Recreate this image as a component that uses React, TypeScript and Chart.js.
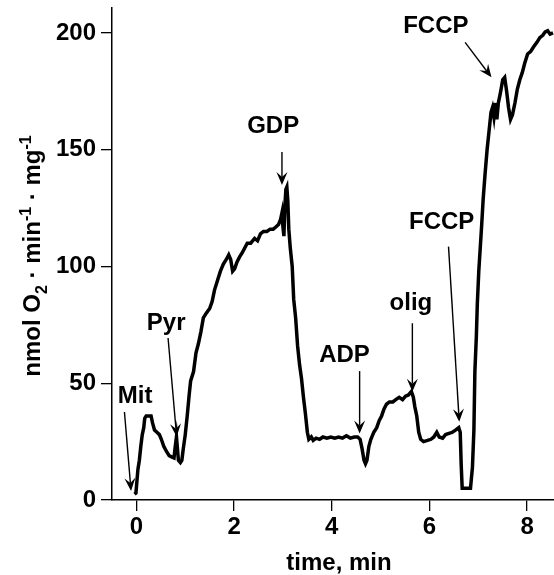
import React, { useEffect, useRef } from "react";
import { Chart, registerables } from "chart.js";

Chart.register(...registerables);

// time (min) of each recorded point
const timeMin = [
  -0.04, -0.01, 0.01, 0.03, 0.06, 0.09, 0.12, 0.15, 0.17, 0.2, 0.3, 0.33, 0.37, 0.42, 0.47, 0.51, 0.56, 0.61, 0.67, 0.72,
  0.77, 0.79, 0.82, 0.84, 0.86, 0.9, 0.93, 0.96, 1.0, 1.04, 1.08, 1.11, 1.17, 1.22, 1.27, 1.32, 1.37, 1.43, 1.5, 1.55,
  1.6, 1.66, 1.72, 1.78, 1.84, 1.89, 1.93, 1.97, 2.01, 2.06, 2.11, 2.17, 2.22, 2.27, 2.34, 2.42, 2.48, 2.54, 2.6, 2.67,
  2.74, 2.8, 2.86, 2.91, 2.95, 2.98, 3.0, 3.02, 3.04, 3.06, 3.08, 3.1, 3.12, 3.15, 3.19, 3.22, 3.26, 3.3, 3.34, 3.38,
  3.42, 3.46, 3.5, 3.53, 3.58, 3.62, 3.68, 3.75, 3.82, 3.9, 3.98, 4.06, 4.14, 4.22, 4.3, 4.38, 4.46, 4.53, 4.58, 4.62,
  4.66, 4.69, 4.72, 4.76, 4.8, 4.86, 4.92, 4.97, 5.02, 5.07, 5.12, 5.18, 5.25, 5.31, 5.38, 5.45, 5.51, 5.57, 5.63, 5.67,
  5.7, 5.74, 5.78, 5.82, 5.88, 5.96, 6.03, 6.09, 6.15, 6.2, 6.27, 6.33, 6.4, 6.47, 6.54, 6.6, 6.63, 6.65, 6.67, 6.84,
  6.88, 6.91, 6.93, 6.96, 6.98, 7.01, 7.04, 7.07, 7.1, 7.14, 7.18, 7.22, 7.26, 7.29, 7.32, 7.35, 7.38, 7.41, 7.45, 7.5,
  7.54, 7.58, 7.62, 7.66, 7.7, 7.75, 7.8, 7.85, 7.9, 7.95, 8.01, 8.07, 8.13, 8.2, 8.26, 8.32, 8.37, 8.42, 8.47, 8.53,
];

// O2 consumption rate (nmol O2 / min / mg)
const o2Rate = [
  2.5, 3, 8, 13, 17, 23, 28, 31, 35, 36, 36, 33, 30, 29, 28, 26, 23, 21, 19, 18.5,
  18, 22, 27, 22, 17, 16, 17, 22, 28, 36, 45, 51, 55, 63, 67, 72, 78, 80, 82, 85,
  90, 94, 98, 101, 103, 105, 103, 98, 99, 102, 104, 106, 108, 110, 110, 112, 111, 114, 115, 115,
  116, 116, 117, 118, 120, 123, 117, 113, 126, 133, 134, 128, 116, 108, 100, 86, 78, 66, 58, 52,
  44, 37, 29, 26, 27, 25.5, 26.5, 26, 27, 26.5, 27, 26.5, 27, 26.5, 27.5, 26.5, 27, 27, 26, 22,
  17, 15.5, 17, 23, 26, 29, 31, 34, 36, 39, 41, 42, 42, 43, 44, 43, 44.5, 45, 46.5, 44,
  40, 36, 29, 26, 25, 25.5, 26, 27, 29, 27, 26.5, 28, 28.5, 29, 30, 31, 29, 15, 5, 5,
  14, 30, 55, 70, 84, 98, 108, 118, 129, 140, 150, 158, 166, 168, 164, 170, 163, 170, 174, 180,
  181, 175, 168, 163, 165, 170, 176, 180, 183, 187, 191, 192, 194, 196, 198, 199, 200.5, 201, 199.5, 200,
];

const xTicks = [0, 2, 4, 6, 8];
const yTicks = [0, 50, 100, 150, 200];

// annotation labels with text anchor (data units) and arrow tail/head (data units)
const annLabels = ["Mit", "Pyr", "GDP", "ADP", "olig", "FCCP", "FCCP"];
const annTextT = [-0.025, 0.61, 2.8, 4.26, 5.62, 6.25, 6.13];
const annTextV = [41.5, 73, 157.2, 59.1, 81.4, 116, 199.8];
const annTailT = [-0.245, 0.648, 2.98, 4.57, 5.65, 6.39, 6.73];
const annTailV = [37.7, 69.4, 149, 55.2, 75.7, 108.5, 196];
const annHeadT = [-0.11, 0.824, 2.98, 4.57, 5.65, 6.61, 7.27];
const annHeadV = [3.9, 27.1, 134.9, 28.5, 46.4, 33.5, 181];

const FONT = "'Liberation Sans', Arial, Helvetica, sans-serif";
const FS = 24;

const annotationPlugin = {
  id: "annotations",
  afterDraw(chart: any) {
    const ctx = chart.ctx as CanvasRenderingContext2D;
    const xs = chart.scales.x;
    const ys = chart.scales.y;
    const ca = chart.chartArea;
    ctx.save();
    ctx.fillStyle = "#000";
    ctx.strokeStyle = "#000";
    ctx.font = `bold ${FS}px ${FONT}`;
    ctx.textAlign = "center";
    ctx.textBaseline = "alphabetic";
    for (let i = 0; i < annLabels.length; i++) {
      ctx.fillText(annLabels[i], xs.getPixelForValue(annTextT[i]), ys.getPixelForValue(annTextV[i]));
      const x1 = xs.getPixelForValue(annTailT[i]);
      const y1 = ys.getPixelForValue(annTailV[i]);
      const x2 = xs.getPixelForValue(annHeadT[i]);
      const y2 = ys.getPixelForValue(annHeadV[i]);
      const ang = Math.atan2(y2 - y1, x2 - x1);
      const L = 13;
      const W = 5.5;
      const notch = 8;
      ctx.lineWidth = 1.4;
      ctx.beginPath();
      ctx.moveTo(x1, y1);
      ctx.lineTo(x2 - Math.cos(ang) * notch, y2 - Math.sin(ang) * notch);
      ctx.stroke();
      const bx = x2 - Math.cos(ang) * L;
      const by = y2 - Math.sin(ang) * L;
      const nx = -Math.sin(ang);
      const ny = Math.cos(ang);
      ctx.beginPath();
      ctx.moveTo(x2, y2);
      ctx.lineTo(bx + nx * W, by + ny * W);
      ctx.lineTo(x2 - Math.cos(ang) * notch, y2 - Math.sin(ang) * notch);
      ctx.lineTo(bx - nx * W, by - ny * W);
      ctx.closePath();
      ctx.fill();
    }

    // x-axis title
    ctx.textAlign = "center";
    ctx.textBaseline = "middle";
    ctx.fillText("time, min", (ca.left + ca.right) / 2 + 6, ca.bottom + 63);

    // y-axis title with sub/superscripts
    const small = Math.round(FS * 0.66);
    const parts = [
      { t: "nmol O", s: FS, dy: 0 },
      { t: "2", s: small, dy: 7 },
      { t: " \u00B7 min", s: FS, dy: 0 },
      { t: "-1", s: small, dy: -9 },
      { t: " \u00B7 mg", s: FS, dy: 0 },
      { t: "-1", s: small, dy: -9 },
    ];
    let total = 0;
    const widths: number[] = [];
    for (const p of parts) {
      ctx.font = `bold ${p.s}px ${FONT}`;
      const w = ctx.measureText(p.t).width;
      widths.push(w);
      total += w;
    }
    ctx.translate(31, (ca.top + ca.bottom) / 2 + 2);
    ctx.rotate(-Math.PI / 2);
    ctx.textAlign = "left";
    ctx.textBaseline = "alphabetic";
    let cx = -total / 2;
    const base = FS * 0.36;
    parts.forEach((p, i) => {
      ctx.font = `bold ${p.s}px ${FONT}`;
      ctx.fillText(p.t, cx, base + p.dy);
      cx += widths[i];
    });
    ctx.restore();
  },
};

export default function App() {
  const canvasRef = useRef<HTMLCanvasElement | null>(null);

  useEffect(() => {
    if (!canvasRef.current) return;
    const chart = new Chart(canvasRef.current, {
      type: "line",
      data: {
        datasets: [
          {
            data: timeMin.map((t, i) => ({ x: t, y: o2Rate[i] })),
            borderColor: "#000",
            borderWidth: 3.5,
            pointRadius: 0,
            tension: 0,
            fill: false,
            borderJoinStyle: "miter",
          },
        ],
      },
      options: {
        animation: false,
        responsive: false,
        maintainAspectRatio: false,
        layout: { padding: { top: 8, right: 0, left: 0, bottom: 0 } },
        plugins: { legend: { display: false }, tooltip: { enabled: false }, title: { display: false } },
        scales: {
          x: {
            type: "linear",
            min: -0.5,
            max: 8.55,
            afterBuildTicks: (s: any) => {
              s.ticks = xTicks.map((v) => ({ value: v }));
            },
            afterFit: (s: any) => {
              s.height = 75;
              s.paddingLeft = 0;
              s.paddingRight = 0;
            },
            ticks: {
              color: "#000",
              font: { family: FONT, size: FS, weight: "bold" },
              padding: 2,
              maxRotation: 0,
              autoSkip: false,
            },
            grid: { drawOnChartArea: false, drawTicks: true, tickLength: 11, color: "#000", lineWidth: 1.3 },
            border: { display: true, color: "#000", width: 1.5 },
          },
          y: {
            type: "linear",
            min: 0,
            max: 210.7,
            afterBuildTicks: (s: any) => {
              s.ticks = yTicks.map((v) => ({ value: v }));
            },
            afterFit: (s: any) => {
              s.width = 112;
              s.paddingTop = 0;
              s.paddingBottom = 0;
            },
            ticks: {
              color: "#000",
              font: { family: FONT, size: FS, weight: "bold" },
              padding: 5,
              autoSkip: false,
            },
            grid: { drawOnChartArea: false, drawTicks: true, tickLength: 11, color: "#000", lineWidth: 1.3 },
            border: { display: true, color: "#000", width: 1.5 },
          },
        },
      },
      plugins: [annotationPlugin],
    });
    return () => chart.destroy();
  }, []);

  return (
    <div style={{ position: "fixed", left: 0, top: 0, width: 554, height: 575, background: "#fff" }}>
      <canvas ref={canvasRef} width={554} height={575} style={{ width: 554, height: 575, display: "block" }} />
    </div>
  );
}
